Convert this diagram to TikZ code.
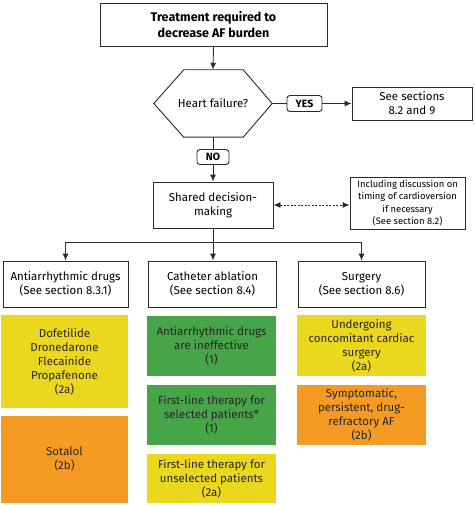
\documentclass[tikz,border=0pt]{standalone}
\usepackage{fontspec}
\setmainfont{Fira Sans}
\usetikzlibrary{arrows.meta,calc}
\definecolor{lnc}{HTML}{2A2A2A}
\definecolor{ylw}{HTML}{EBD81E}
\definecolor{org}{HTML}{F59B23}
\definecolor{grn}{HTML}{47A448}
\tikzset{
  box/.style={draw=lnc, line width=0.9pt, align=center, inner sep=2pt, font=\fontsize{11.5}{14}\selectfont},
  tagbox/.style={draw=lnc, line width=0.9pt, rounded corners=3pt, font=\bfseries\fontsize{10.5}{12}\selectfont, inner sep=0pt},
  cbox/.style={align=center, inner sep=2pt, font=\fontsize{11.5}{14}\selectfont, text=black!85},
  conn/.style={draw=lnc, line width=0.9pt},
  arr/.style={conn, -{Latex[length=7pt,width=6pt]}},
}
\begin{document}
\begin{tikzpicture}[x=1pt,y=-1pt]
\useasboundingbox (0,0) rectangle (474,505);
% top
\node[box, minimum width=227pt, minimum height=43pt, font=\bfseries\fontsize{12.5}{16}\selectfont] (top) at (213.5,24.5) {Treatment required to\\decrease AF burden};
% hexagon
\node[align=center, inner sep=0pt, minimum width=118pt, minimum height=67pt, font=\fontsize{11.5}{14}\selectfont] (hf) at (213,103.5) {Heart failure?};
\draw[conn] (hf.west) -- ($(hf.north west)+(30,0)$) -- ($(hf.north east)+(-29,0)$) -- (hf.east) -- ($(hf.south east)+(-29,0)$) -- ($(hf.south west)+(30,0)$) -- cycle;
\node[tagbox, minimum width=35pt, minimum height=16pt] (yes) at (304.5,103.5) {YES};
\node[box, minimum width=120pt, minimum height=33pt] (sec) at (412,103.5) {See sections\\8.2 and 9};
\node[tagbox, minimum width=32pt, minimum height=15pt] (no) at (213,157) {NO};
\node[box, minimum width=115pt, minimum height=52pt, font=\fontsize{9.4}{12.5}\selectfont] (incl) at (407.5,203) {Including discussion on\\timing of cardioversion\\if necessary\\(See section 8.2)};
\node[box, minimum width=120pt, minimum height=46pt] (shared) at (213,205) {Shared decision-\\making};
% branches
\node[box, minimum width=125pt, minimum height=46pt] (ad) at (65.5,284) {Antiarrhythmic drugs\\(See section 8.3.1)};
\node[box, minimum width=128pt, minimum height=46pt] (ca) at (212.5,284) {Catheter ablation\\(See section 8.4)};
\node[box, minimum width=127pt, minimum height=46pt] (su) at (361.5,284) {Surgery\\(See section 8.6)};
\coordinate (br) at (213,242);
% coloured boxes
\node[cbox, fill=ylw, minimum width=127pt, minimum height=93pt] (c11) at (64.5,361.5) {Dofetilide\\Dronedarone\\Flecainide\\Propafenone\\(2a)};
\node[cbox, fill=org, minimum width=127pt, minimum height=87pt] (c12) at (64.5,459.5) {Sotalol\\(2b)};
\node[cbox, fill=grn, minimum width=129pt, minimum height=60pt] (c21) at (211.5,346) {Antiarrhythmic drugs\\are ineffective\\(1)};
\node[cbox, fill=grn, minimum width=129pt, minimum height=60pt] (c22) at (211.5,415) {First-line therapy for\\selected patients*\\(1)};
\node[cbox, fill=ylw, minimum width=129pt, minimum height=49pt] (c23) at (211.5,478.5) {First-line therapy for\\unselected patients\\(2a)};
\node[cbox, fill=ylw, minimum width=129pt, minimum height=61pt] (c31) at (361.5,345.5) {Undergoing\\concomitant cardiac\\surgery\\(2a)};
\node[cbox, fill=org, minimum width=129pt, minimum height=60pt] (c32) at (361.5,415) {Symptomatic,\\persistent, drug-\\refractory AF\\(2b)};
% connectors
\draw[arr] (top.south) -- (hf.north);
\draw[conn] (hf.east) -- (yes.west);
\draw[arr] (yes.east) -- (sec.west);
\draw[conn] (hf.south) -- (no.north);
\draw[arr] (no.south) -- (shared.north);
\draw[conn, dashed, dash pattern=on 2pt off 1.5pt, {Latex[length=7pt,width=6pt]}-{Latex[length=7pt,width=6pt]}] (shared.east) -- (incl.west |- shared.east);
\draw[conn] (shared.south) -- (br);
\draw[arr] (br) -| (ad.north);
\draw[arr] (br) -| (su.north);
\draw[arr] (br) -- (ca.north -| br);
\end{tikzpicture}
\end{document}
